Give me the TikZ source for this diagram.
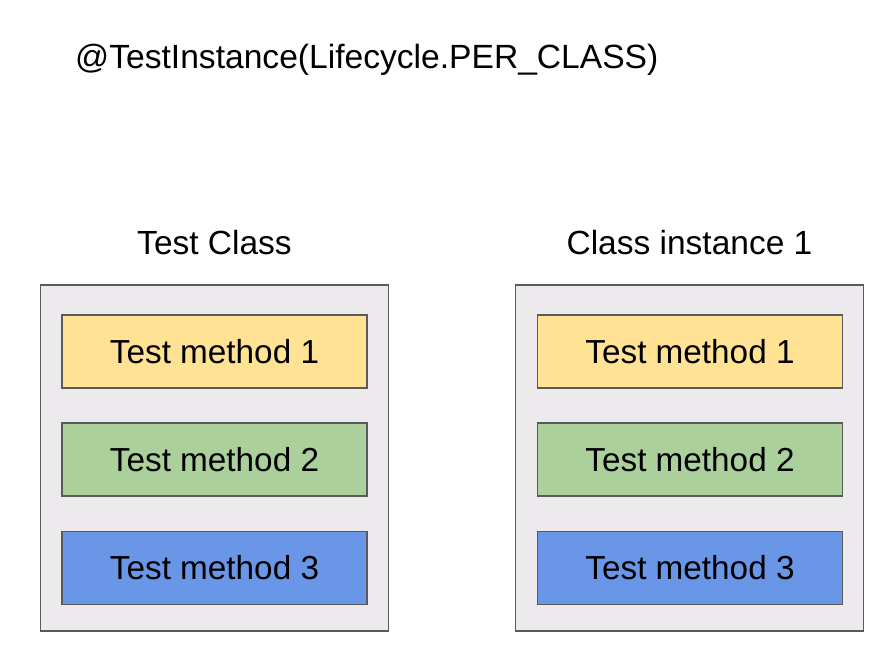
\documentclass[tikz,border=0pt]{standalone}
\usepackage{fontspec}
\setmainfont{Liberation Sans}
\definecolor{boxbg}{RGB}{236,234,237}
\definecolor{edge}{RGB}{90,90,90}
\definecolor{M1}{RGB}{255,226,148}
\definecolor{M2}{RGB}{172,208,156}
\definecolor{M3}{RGB}{106,150,232}

\begin{document}
\begin{tikzpicture}[x=1pt,y=-1pt,
        every node/.style={font=\fontsize{33.5}{40}\selectfont,inner sep=0pt},
        holder/.style={draw=edge,line width=1.4pt,fill=boxbg,minimum width=348pt,minimum height=346pt},
        method/.style={draw=edge,line width=1.1pt,minimum width=305pt,minimum height=73pt,font=\fontsize{33.3}{40}\selectfont}]
                \useasboundingbox (0,0) rectangle (895,650);

                \node[anchor=base west,font=\fontsize{33.6}{40}\selectfont] (title) at (75,69) {@TestInstance(Lifecycle.PER\_CLASS)};

                \node (clshead) at (214.5,242.5) {Test Class};
                \node (insthead) at (689.5,242.5) {Class instance 1};

                \node[holder] (cls) at (214.5,458) {};
                \node[method,fill=M1] (cls1) at (214.5,351.5) {Test method 1};
                \node[method,fill=M2] (cls2) at (214.5,459.5) {Test method 2};
                \node[method,fill=M3] (cls3) at (214.5,568) {Test method 3};

                \node[holder] (inst) at (689.5,458) {};
                \node[method,fill=M1] (inst1) at (690,351.5) {Test method 1};
                \node[method,fill=M2] (inst2) at (690,459.5) {Test method 2};
                \node[method,fill=M3] (inst3) at (690,568) {Test method 3};
            \end{tikzpicture}
\end{document}
